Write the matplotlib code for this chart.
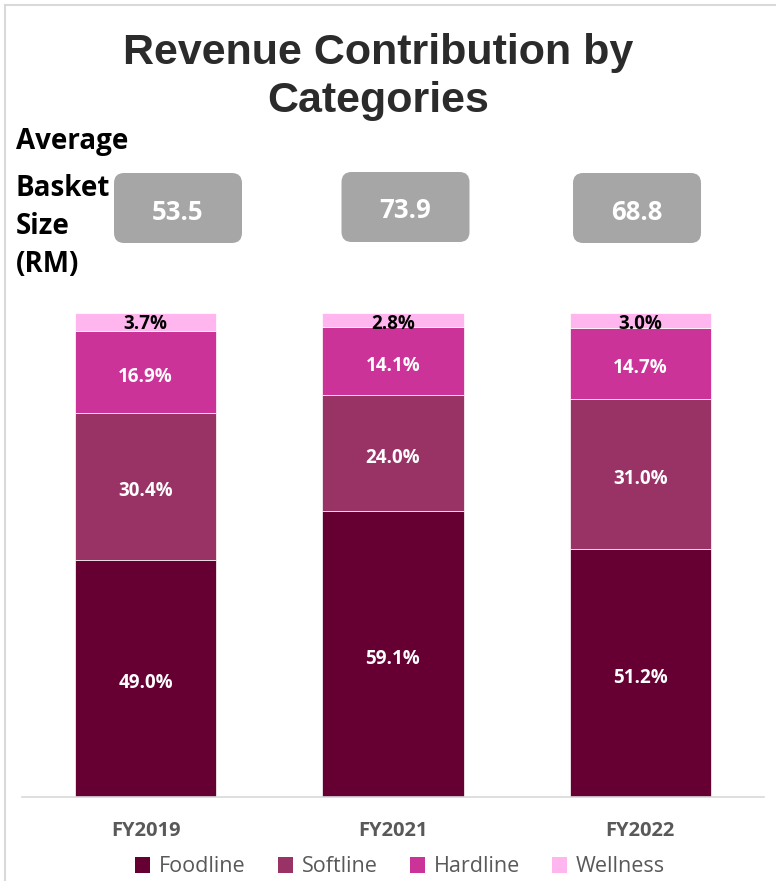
import matplotlib
matplotlib.use("Agg")
import matplotlib.pyplot as plt
from matplotlib.patches import FancyBboxPatch, Patch
from matplotlib.lines import Line2D
import numpy as np

years = ["FY2019", "FY2021", "FY2022"]
categories = ["Foodline", "Softline", "Hardline", "Wellness"]
foodline = [49.0, 59.1, 51.2]
softline = [30.4, 24.0, 31.0]
hardline = [16.9, 14.1, 14.7]
wellness = [3.7, 2.8, 3.0]
basket = [53.5, 73.9, 68.8]

colors = ["#660033", "#993366", "#CC3399", "#FFB5EE"]
FONT = "Open Sans"
W, H = 776, 881
fig = plt.figure(figsize=(W / 100, H / 100), dpi=100)

ax = fig.add_axes([22 / W, (H - 797) / H, (764 - 22) / W, (797 - 313) / H])
x = np.arange(len(years))
series = [foodline, softline, hardline, wellness]
bottom = np.zeros(len(years))
for i, (vals, c) in enumerate(zip(series, colors)):
    ax.bar(x, vals, width=0.571, bottom=bottom, color=c, edgecolor="white", linewidth=0.5)
    for xi, v, b in zip(x, vals, bottom):
        if i == 3:
            ax.text(xi, 100 - 2.3, f"{v:.1f}%", ha="center", va="center",
                    color="black", fontsize=13.5, fontweight="bold", family=FONT)
        else:
            ax.text(xi, b + v / 2 - 1.0, f"{v:.1f}%", ha="center", va="center",
                    color="white", fontsize=13.5, fontweight="bold", family=FONT)
    bottom += np.array(vals)

ax.set_xlim(-0.5, 2.5)
ax.set_ylim(0, 100)
ax.set_yticks([])
ax.set_xticks(x)
ax.set_xticklabels(years, fontsize=14.5, fontweight="bold", color="#595959", family=FONT)
ax.tick_params(axis="x", length=0, pad=17)
for s in ["top", "right", "left"]:
    ax.spines[s].set_visible(False)
ax.spines["bottom"].set_color("#D9D9D9")
ax.spines["bottom"].set_linewidth(1.2)

# title
fig.text(378 / W, 1 - 53 / H, "Revenue Contribution by", ha="center", va="center",
         fontsize=31, fontweight="bold", color="#2B2B2B", family="Liberation Sans")
fig.text(378 / W, 1 - 101 / H, "Categories", ha="center", va="center",
         fontsize=31, fontweight="bold", color="#2B2B2B", family="Liberation Sans")

# side label
for txt, yy in zip(["Average", "Basket", "Size", "(RM)"], [141, 188, 226, 264]):
    fig.text(16 / W, 1 - yy / H, txt, ha="left", va="center", fontsize=20,
             fontweight="bold", color="black", family=FONT)

# basket boxes
box_cx = [178, 405.5, 637]
box_cy = [208, 207, 208]
bw, bh = 128, 70
for cx, cy, v in zip(box_cx, box_cy, basket):
    p = FancyBboxPatch(((cx - bw / 2) / W, 1 - (cy + bh / 2) / H), bw / W, bh / H,
                       boxstyle="round,pad=0,rounding_size=0.013",
                       transform=fig.transFigure, facecolor="#A6A6A6",
                       edgecolor="none", mutation_aspect=W / H)
    fig.patches.append(p)
    fig.text(cx / W, 1 - (cy + 4) / H, f"{v:.1f}", ha="center", va="center",
             fontsize=18.5, fontweight="bold", color="white", family=FONT)

# frame lines
fig.add_artist(Line2D([5 / W, 5 / W], [0, 1 - 5 / H], transform=fig.transFigure,
                      color="#D9D9D9", lw=1.5))
fig.add_artist(Line2D([5 / W, 1], [1 - 5 / H, 1 - 5 / H], transform=fig.transFigure,
                      color="#D9D9D9", lw=1.5))

handles = [Patch(facecolor=c, edgecolor="none") for c in colors]
fig.legend(handles, categories, loc="center", bbox_to_anchor=(400 / W, 1 - 867 / H),
           ncol=4, frameon=False, handlelength=0.7, handleheight=0.7,
           handletextpad=0.4, columnspacing=1.5,
           prop={"family": FONT, "size": 15.5}, labelcolor="#595959")

fig.savefig("out.png", dpi=100)
